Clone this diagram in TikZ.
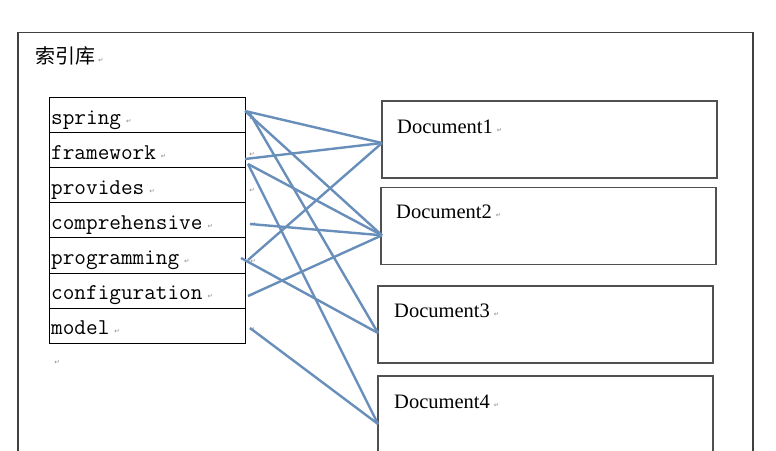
\documentclass[tikz,border=0pt]{standalone}
\usepackage{fontspec}
\setmainfont{Liberation Serif}
\newfontfamily\cjk{Noto Sans CJK SC}
\newfontfamily\symf{DejaVu Sans}
\usetikzlibrary{calc}
\definecolor{linkblue}{RGB}{104,142,186}
\definecolor{markgray}{RGB}{140,140,140}
\definecolor{boxgray}{RGB}{80,80,80}
\newcommand\retmk{{\symf\fontsize{6.5}{6.5}\selectfont\color{markgray}\raisebox{1pt}{↵}}}
\begin{document}
\begin{tikzpicture}[x=1pt,y=-1pt,
  cell/.style={draw=black,line width=1pt,minimum width=196pt,minimum height=35.2pt,inner sep=0,outer sep=0,anchor=north west},
  word/.style={anchor=base west,inner sep=0,font=\ttfamily\fontsize{22.6}{26}\selectfont},
  docbox/.style={draw=boxgray,line width=1.5pt,minimum width=335pt,minimum height=77pt,inner sep=0,outer sep=0,anchor=north west},
  doctext/.style={anchor=base west,inner sep=0,font=\fontsize{20.5}{24}\selectfont},
  link/.style={draw=linkblue,line width=2.4pt},
  rowmark/.style={inner sep=0,anchor=center}
]
\useasboundingbox (0,0) rectangle (776,450);
\clip (0,0) rectangle (776,450);
\fill[white] (0,0) rectangle (776,450);

% outer frame
\node[draw=black!75,line width=1.2pt,minimum width=735pt,minimum height=430pt,inner sep=0,outer sep=0,anchor=north west] (frame) at (18,32.3) {};
\node[anchor=base west,inner sep=0,font=\cjk\fontsize{20}{24}\selectfont] (title) at (35,63) {索引库\hspace{3pt}\retmk};

% table cells
\node[cell] (r1) at (49,97) {};
\node[cell] (r2) at (49,132.2) {};
\node[cell] (r3) at (49,167.4) {};
\node[cell] (r4) at (49,202.6) {};
\node[cell] (r5) at (49,237.8) {};
\node[cell] (r6) at (49,273) {};
\node[cell] (r7) at (49,308.2) {};

\node[word] (w1) at (51,124) {spring\hspace{5pt}\retmk};
\node[word] (w2) at (51,159) {framework\hspace{5pt}\retmk};
\node[word] (w3) at (51,194) {provides\hspace{5pt}\retmk};
\node[word] (w4) at (51,229.5) {comprehensive\hspace{5pt}\retmk};
\node[word] (w5) at (51,264.5) {programming\hspace{5pt}\retmk};
\node[word] (w6) at (51,299.5) {configuration\hspace{5pt}\retmk};
\node[word] (w7) at (51,334.5) {model\hspace{5pt}\retmk};

% end-of-row marks
\node[rowmark] (m1) at (252,119) {\retmk};
\node[rowmark] (m2) at (252,155) {\retmk};
\node[rowmark] (m3) at (252,190.5) {\retmk};
\node[rowmark] (m4) at (253,225) {\retmk};
\node[rowmark] (m5) at (253,261.5) {\retmk};
\node[rowmark] (m6) at (252,296) {\retmk};
\node[rowmark] (m7) at (252,330) {\retmk};
\node[rowmark] (m8) at (57,362.5) {\retmk};

% documents
\node[docbox] (d1) at (382,101) {};
\node[docbox] (d2) at (381,187.5) {};
\node[docbox] (d3) at (378,286) {};
\node[docbox] (d4) at (378,376) {};

\node[doctext] (t1) at (397,133) {Document1\hspace{4pt}\retmk};
\node[doctext] (t2) at (396,218) {Document2\hspace{4pt}\retmk};
\node[doctext] (t3) at (394,317) {Document3\hspace{4pt}\retmk};
\node[doctext] (t4) at (394,408) {Document4\hspace{4pt}\retmk};

% connectors
\draw[link] ($(r1.east)+(0,-3.6)$) -- ($(d1.west)+(0,3.5)$);
\draw[link] ($(r1.east)+(0,-3.6)$) -- ($(d2.west)+(1,9.3)$);
\draw[link] ($(r1.east)+(4,-2.6)$) -- ($(d3.west)+(0,8.5)$);
\draw[link] ($(r2.east)+(0,9.2)$) -- ($(d1.west)+(0,3.5)$);
\draw[link] ($(r3.north east)+(3,-3.4)$) -- ($(d2.west)+(1,9.3)$);
\draw[link] ($(r3.north east)+(3,-3.4)$) -- ($(d4.west)+(0,9.5)$);
\draw[link] ($(r4.east)+(5,3.8)$) -- ($(d2.west)+(1,9.3)$);
\draw[link] ($(r5.east)+(3,4.6)$) -- ($(d1.west)+(0,3.5)$);
\draw[link] ($(r5.east)+(-4,2.6)$) -- ($(d3.west)+(0,8.5)$);
\draw[link] ($(r6.east)+(3,5.4)$) -- ($(d2.west)+(1,9.3)$);
\draw[link] ($(r7.east)+(5,2.2)$) -- ($(d4.west)+(0,9.5)$);
\end{tikzpicture}
\end{document}
